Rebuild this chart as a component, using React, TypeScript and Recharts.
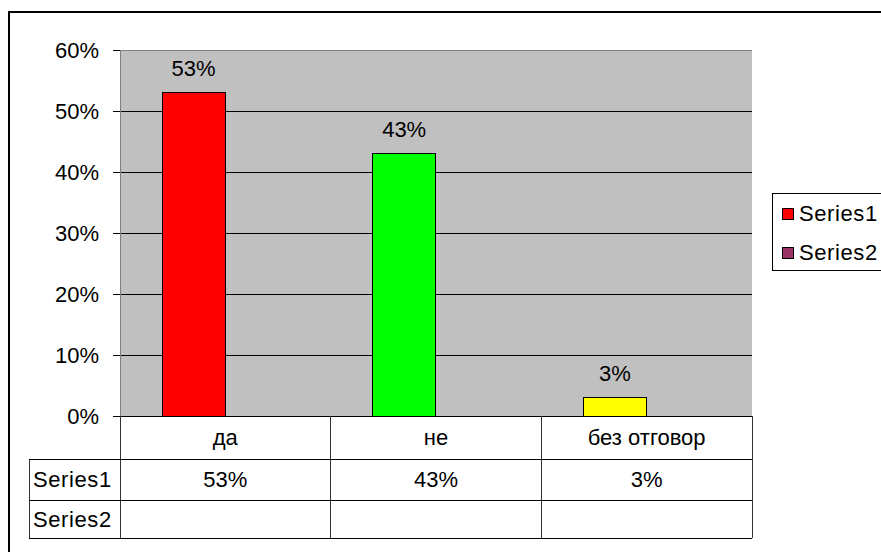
import React from 'react';
import { BarChart, Bar, XAxis, YAxis, CartesianGrid, Cell, LabelList, Legend, ReferenceLine } from 'recharts';

const CATEGORIES = ['да', 'не', 'без отговор'];
const SERIES1 = [0.53, 0.43, 0.03];
const SERIES2: (number | null)[] = [null, null, null];
const BAR_COLORS = ['#FF0000', '#00FF00', '#FFFF00'];
const Y_TICKS = [0, 0.1, 0.2, 0.3, 0.4, 0.5, 0.6];
const SERIES_NAMES = ['Series1', 'Series2'];

const data = CATEGORIES.map((cat, i) => ({ cat, s1: SERIES1[i], s2: SERIES2[i] }));

const FONT = "'Liberation Sans', Arial, sans-serif";
const FS = 22;
const W = 881;
const H = 552;
const PLOT_LEFT = 120;
const PLOT_RIGHT = 752;
const PLOT_BOTTOM = 416;
const BAND = (PLOT_RIGHT - PLOT_LEFT) / CATEGORIES.length;
// data table rows
const ROW1 = 459;
const ROW2 = 500.5;
const ROW3 = 538;
const HEADER_LEFT = 29;

const pct = (v: any) => (v == null ? '' : `${Math.round(v * 100)}%`);

const TableTick = (props: any) => {
    const { x, payload, index } = props;
    const left = x - BAND / 2;
    const right = x + BAND / 2;
    const s1 = SERIES1[index];
    const s2 = SERIES2[index];
    return (
        <g fontFamily={FONT} fontSize={FS} fill="#000">
            {index === 0 && (
                <g>
                    <line x1={left} y1={PLOT_BOTTOM} x2={left} y2={ROW3} stroke="#333" />
                    <line x1={HEADER_LEFT} y1={ROW1} x2={HEADER_LEFT} y2={ROW3} stroke="#333" />
                    {[ROW1, ROW2, ROW3].map(y => (
                        <line key={y} x1={HEADER_LEFT} y1={y} x2={left} y2={y} stroke="#000" />
                    ))}
                    <text x={HEADER_LEFT + 4} y={(ROW1 + ROW2) / 2} dominantBaseline="central" fill="#000" letterSpacing={0.6}>{SERIES_NAMES[0]}</text>
                    <text x={HEADER_LEFT + 4} y={(ROW2 + ROW3) / 2} dominantBaseline="central" fill="#000" letterSpacing={0.6}>{SERIES_NAMES[1]}</text>
                </g>
            )}
            <line x1={right} y1={PLOT_BOTTOM} x2={right} y2={ROW3} stroke="#333" />
            {[ROW1, ROW2, ROW3].map(y => (
                <line key={y} x1={left} y1={y} x2={right} y2={y} stroke="#000" />
            ))}
            <text x={x} y={(PLOT_BOTTOM + ROW1) / 2} textAnchor="middle" dominantBaseline="central" fill="#000">{payload.value}</text>
            <text x={x} y={(ROW1 + ROW2) / 2} textAnchor="middle" dominantBaseline="central" fill="#000">{pct(s1)}</text>
            <text x={x} y={(ROW2 + ROW3) / 2} textAnchor="middle" dominantBaseline="central" fill="#000">{pct(s2)}</text>
        </g>
    );
};

const LegendBox = (props: any) => {
    const { payload } = props;
    return (
        <div style={{ border: '1px solid #000', background: '#fff', height: 78, boxSizing: 'border-box', paddingTop: 0, fontFamily: FONT, fontSize: FS }}>
            {(payload || []).map((e: any) => (
                <div key={e.value} style={{ display: 'flex', alignItems: 'center', height: 39, marginLeft: 9, color: '#000', letterSpacing: 0.6 }}>
                    <span style={{ width: 10, height: 10, background: e.color, border: '1px solid #000', marginRight: 5, display: 'inline-block' }} />
                    {e.value}
                </div>
            ))}
        </div>
    );
};

export default function App() {
    return (
        <div style={{ position: 'absolute', left: 0, top: 0, width: W, height: H, overflow: 'hidden', background: '#fff' }}>
            <div style={{ position: 'absolute', left: 8, top: 11, width: 950, height: 650, border: '2px solid #000', boxSizing: 'border-box' }} />
            <div style={{ position: 'absolute', left: 0, top: 0, shapeRendering: 'crispEdges' }}>
                <BarChart width={W} height={H} data={data} margin={{ top: 50, right: 4, bottom: 0, left: 0 }} barGap={0} barSize={63}>
                    <CartesianGrid vertical={false} stroke="#000" fill="#C0C0C0" />
                    <XAxis
                        dataKey="cat"
                        height={136}
                        axisLine={{ stroke: '#000' }}
                        tickLine={false}
                        tick={<TableTick />}
                        interval={0}
                    />
                    <YAxis
                        width={120}
                        domain={[0, 0.6]}
                        ticks={Y_TICKS}
                        tickFormatter={pct}
                        axisLine={{ stroke: '#808080' }}
                        tickLine={{ stroke: '#000' }}
                        tickSize={7}
                        tickMargin={14}
                        tick={{ fill: '#000', fontSize: FS, fontFamily: FONT }}
                    />
                    <YAxis
                        yAxisId="right"
                        orientation="right"
                        width={0}
                        domain={[0, 0.6]}
                        tick={false}
                        tickLine={false}
                        axisLine={{ stroke: '#808080' }}
                    />
                    <ReferenceLine y={0.6} stroke="#808080" />
                    <Legend layout="vertical" align="right" verticalAlign="middle" content={<LegendBox />} wrapperStyle={{ left: 772, top: 193, width: 125 }} />
                    <Bar dataKey="s1" name={SERIES_NAMES[0]} fill="#FF0000" stroke="#000" strokeWidth={1} isAnimationActive={false}>
                        {data.map((d, i) => <Cell key={d.cat} fill={BAR_COLORS[i]} />)}
                        <LabelList dataKey="s1" position="top" offset={17} formatter={pct} fill="#000" fontSize={FS} fontFamily={FONT} />
                    </Bar>
                    <Bar dataKey="s2" name={SERIES_NAMES[1]} fill="#993366" stroke="#000" strokeWidth={1} isAnimationActive={false} />
                </BarChart>
            </div>
        </div>
    );
}
